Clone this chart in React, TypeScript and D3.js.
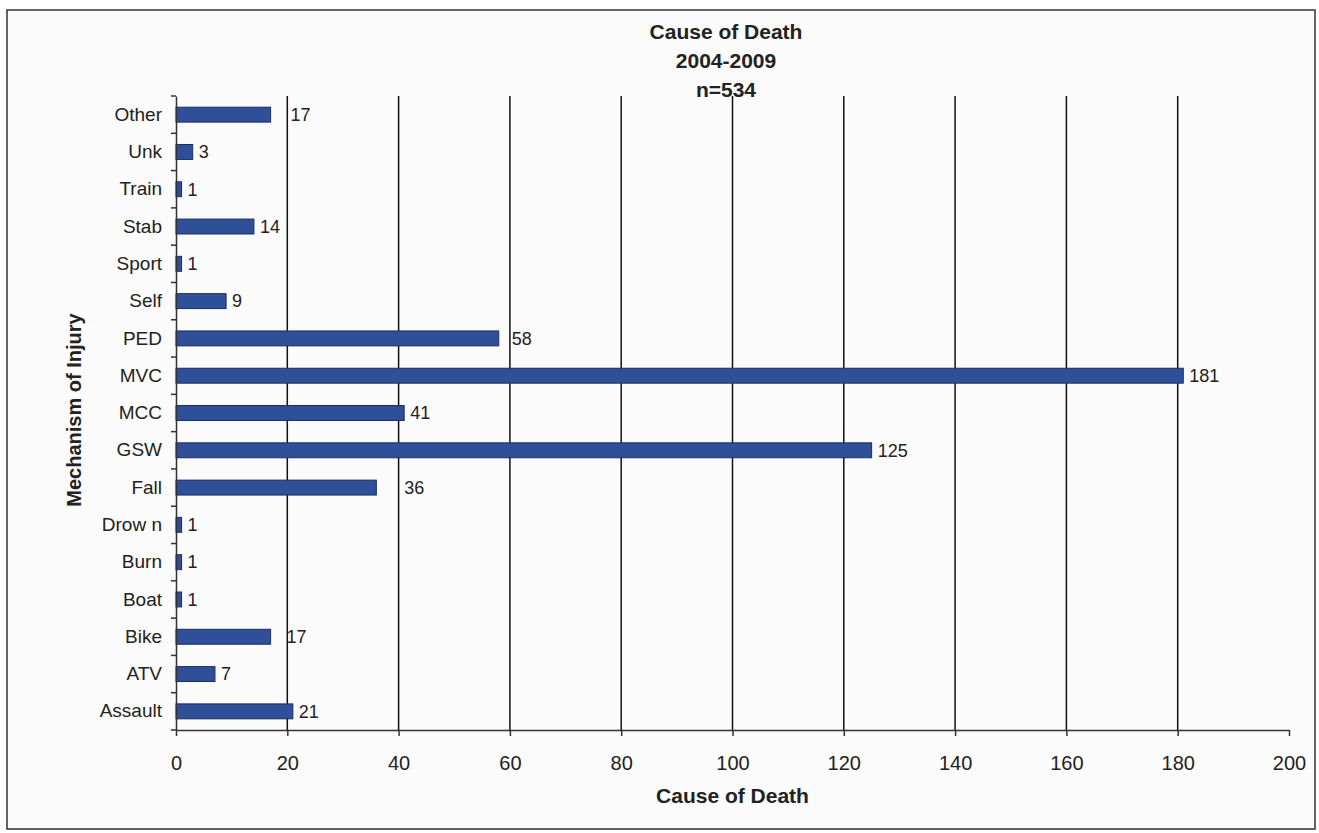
import React, { useRef, useEffect } from 'react';
import * as d3 from 'd3';

// categories, top to bottom as in the chart
const categories = ['Other', 'Unk', 'Train', 'Stab', 'Sport', 'Self', 'PED', 'MVC', 'MCC', 'GSW', 'Fall', 'Drow n', 'Burn', 'Boat', 'Bike', 'ATV', 'Assault'];
const deaths = [17, 3, 1, 14, 1, 9, 58, 181, 41, 125, 36, 1, 1, 1, 17, 7, 21];
const xTicks = [0, 20, 40, 60, 80, 100, 120, 140, 160, 180, 200];
const titleLines = ['Cause of Death', '2004-2009', 'n=534'];

// some labels were dragged aside in the original
const labelNudge: Record<string, number> = { Other: 14, Bike: 10, Fall: 22, PED: 7 };

const App = () => {
  const svgRef = useRef<SVGSVGElement>(null);

  useEffect(() => {
    if (!svgRef.current) return;
    const svg = d3.select(svgRef.current);
    svg.selectAll('*').remove();

    const width = 1319;
    const height = 833;
    const margin = { top: 96, left: 176 };
    const plotW = 1289 - margin.left;
    const plotH = 730 - margin.top;
    const font = 'Liberation Sans, Arial, sans-serif';
    const ink = '#222';

    svg.attr('width', width).attr('height', height);

    // outer frame
    svg.append('rect')
      .attr('x', 7).attr('y', 10)
      .attr('width', 1308).attr('height', 819)
      .attr('fill', '#fbfbfb')
      .attr('stroke', '#333')
      .attr('stroke-width', 1.5);

    const g = svg.append('g').attr('transform', `translate(${margin.left},${margin.top})`);

    const x = d3.scaleLinear().domain([0, 200]).range([0, plotW]);
    const y = d3.scaleBand().domain(categories).range([0, plotH]).paddingInner(0.6).paddingOuter(0.3);
    const yEdges = d3.scaleBand().domain(categories).range([0, plotH]);

    // vertical gridlines
    g.selectAll('.grid')
      .data(xTicks.filter(t => t > 0 && t < 200))
      .enter()
      .append('line')
      .attr('x1', d => x(d)).attr('x2', d => x(d))
      .attr('y1', 0).attr('y2', plotH)
      .attr('stroke', '#111')
      .attr('stroke-width', 1.5);

    // bars
    g.selectAll('.bar')
      .data(deaths)
      .enter()
      .append('rect')
      .attr('x', 0)
      .attr('y', (d, i) => y(categories[i])!)
      .attr('width', d => x(d))
      .attr('height', y.bandwidth())
      .attr('fill', '#2f4f98')
      .attr('stroke', '#1a2d66')
      .attr('stroke-width', 1);

    // value labels
    g.selectAll('.val')
      .data(deaths)
      .enter()
      .append('text')
      .attr('x', (d, i) => x(d) + 6 + (labelNudge[categories[i]] || 0))
      .attr('y', (d, i) => y(categories[i])! + y.bandwidth() / 2)
      .attr('dy', '0.35em')
      .attr('font-family', font)
      .attr('font-size', 18)
      .attr('fill', ink)
      .text(d => d);

    // y axis
    const yAxis = g.append('g').call(d3.axisLeft(yEdges).tickSize(0).tickPadding(14));
    yAxis.select('.domain').attr('stroke', '#333').attr('stroke-width', 1.5);
    yAxis.selectAll('.tick text').attr('font-family', font).attr('font-size', 19).attr('fill', ink);
    g.selectAll('.ytick')
      .data([...categories.map(c => yEdges(c)!), plotH])
      .enter()
      .append('line')
      .attr('x1', -5).attr('x2', 0)
      .attr('y1', d => d).attr('y2', d => d)
      .attr('stroke', '#333')
      .attr('stroke-width', 1.5);

    // x axis
    const xAxis = g.append('g')
      .attr('transform', `translate(0,${plotH})`)
      .call(d3.axisBottom(x).tickValues(xTicks).tickSize(6).tickSizeOuter(0).tickPadding(20));
    xAxis.select('.domain').attr('stroke', '#333').attr('stroke-width', 1.5);
    xAxis.selectAll('.tick line').attr('stroke', '#333').attr('stroke-width', 1.5);
    xAxis.selectAll('.tick text').attr('font-family', font).attr('font-size', 20).attr('fill', ink);

    // titles
    svg.append('g')
      .selectAll('text')
      .data(titleLines)
      .enter()
      .append('text')
      .attr('x', 726)
      .attr('y', (d, i) => 39 + i * 29)
      .attr('text-anchor', 'middle')
      .attr('font-family', font)
      .attr('font-weight', 'bold')
      .attr('font-size', 21)
      .attr('fill', ink)
      .text(d => d);

    svg.append('text')
      .attr('x', margin.left + plotW / 2)
      .attr('y', 803)
      .attr('text-anchor', 'middle')
      .attr('font-family', font)
      .attr('font-weight', 'bold')
      .attr('font-size', 21)
      .attr('fill', ink)
      .text('Cause of Death');

    svg.append('text')
      .attr('transform', `translate(81,410) rotate(-90)`)
      .attr('text-anchor', 'middle')
      .attr('font-family', font)
      .attr('font-weight', 'bold')
      .attr('font-size', 20)
      .attr('fill', ink)
      .text('Mechanism of Injury');
  }, []);

  return (
    <div style={{ position: 'absolute', left: 0, top: 0 }}>
      <svg ref={svgRef}></svg>
    </div>
  );
};

export default App;
